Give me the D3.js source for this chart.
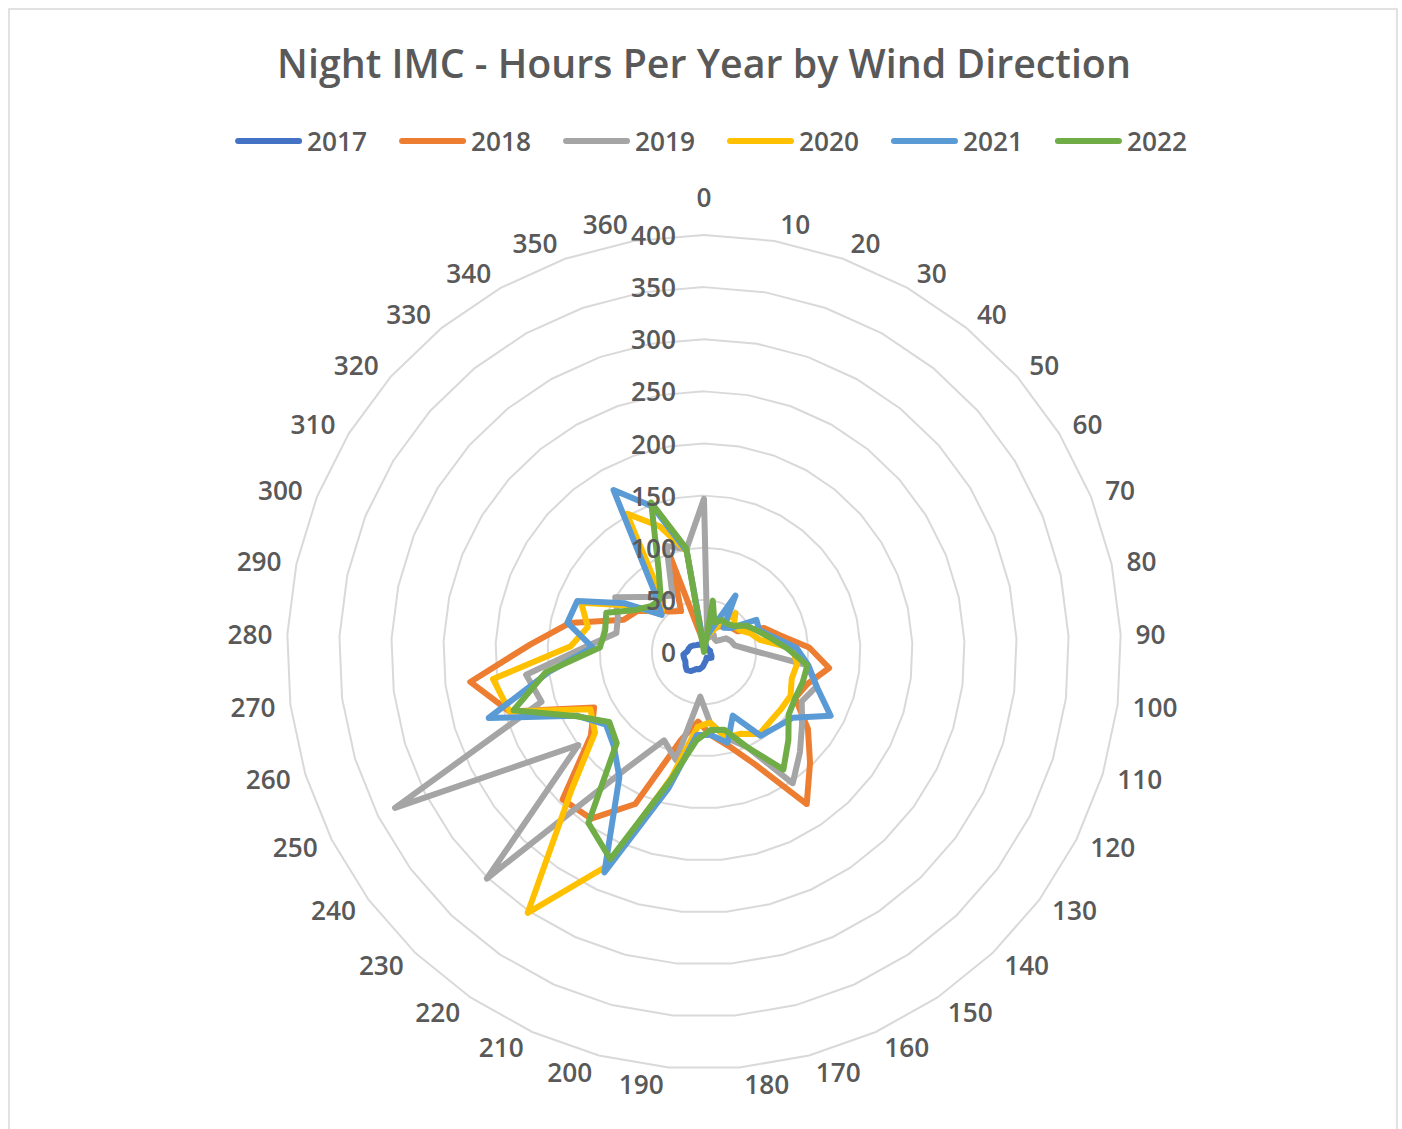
<!DOCTYPE html>
<html><head><meta charset="utf-8">
<script src="https://cdn.jsdelivr.net/npm/d3@7/dist/d3.min.js"></script>
<style>
html,body{margin:0;padding:0;background:#fff;}
svg{display:block;}
text{font-family:"Open Sans","Noto Sans",sans-serif;fill:#595959;font-weight:600;}
</style></head><body>
<svg id="chart" width="1402" height="1129"></svg>
<script>
const titleText = "Night IMC - Hours Per Year by Wind Direction";
const categories = ["0","10","20","30","40","50","60","70","80","90","100","110","120","130","140","150","160","170","180","190","200","210","220","230","240","250","260","270","280","290","300","310","320","330","340","350","360"];
const radialTicks = [0,50,100,150,200,250,300,350,400];
const seriesNames = ["2017","2018","2019","2020","2021","2022"];
const seriesColors = ["#4472C4","#ED7D31","#A5A5A5","#FFC000","#5B9BD5","#70AD47"];
const v2017 = [10,8,6,5,5,4,4,5,6,6,6,7,8,9,8,7,6,8,10,14,17,18,22,24,22,20,20,20,16,15,14,12,10,9,8,8,9];
const v2018 = [8,15,22,28,32,35,38,62,75,101,121,104,98,124,147,176,118,93,80,67,87,160,193,196,135,118,195,226,167,132,83,75,60,50,45,96,15];
const v2019 = [147,18,15,19,16,16,25,28,30,45,100,113,105,117,133,152,100,85,68,43,107,93,137,301,150,332,163,172,114,86,89,100,80,68,62,108,100];
const v2020 = [5,15,20,30,48,38,40,48,55,85,90,88,93,92,92,95,86,85,68,72,125,225,302,184,130,122,195,204,128,114,127,85,55,62,152,128,98];
const v2021 = [5,15,25,62,30,35,59,57,68,89,101,113,136,106,100,97,67,90,80,80,135,232,145,125,117,136,216,150,107,134,131,89,54,77,178,148,98];
const v2022 = [0,50,30,35,35,38,48,55,65,80,100,99,98,101,117,136,100,77,75,85,127,218,198,121,113,137,191,153,100,97,101,77,67,66,89,152,101];
const seriesValues = [v2017,v2018,v2019,v2020,v2021,v2022];

const svg = d3.select("#chart");
const cx = 704, cy = 652, R = 417;
const n = categories.length;
const angle = d3.scaleLinear().domain([0, n]).range([0, 2*Math.PI]);
const r = d3.scaleLinear().domain([0, 400]).range([0, R]);

function fitSize(str, target, weight){
  const t = svg.append("text").attr("font-size",100).style("font-weight",weight).text(str);
  const w = t.node().getComputedTextLength(); t.remove();
  return 100*target/w;
}
const labelSize = fitSize("400", 45, 600);
const titleSize = fitSize(titleText, 854, 600);

svg.append("rect").attr("x",9).attr("y",9).attr("width",1388).attr("height",1200)
  .attr("fill","none").attr("stroke","#D9D9D9").attr("stroke-width",1.5);

svg.append("text").attr("x",cx).attr("y",63).attr("text-anchor","middle")
  .attr("dominant-baseline","central").attr("font-size",titleSize).text(titleText);

const g = svg.append("g").attr("transform",`translate(${cx},${cy})`);

const ringLine = d3.lineRadial().angle((d,i)=>angle(i)).radius(d=>d).curve(d3.curveLinearClosed);
radialTicks.filter(t=>t>0).forEach(t=>{
  g.append("path").attr("d", ringLine(categories.map(()=>r(t))))
   .attr("fill","none").attr("stroke","#D9D9D9").attr("stroke-width",2);
});

const line = d3.lineRadial().angle((d,i)=>angle(i)).radius(d=>r(d)).curve(d3.curveLinearClosed);
seriesValues.forEach((vals,si)=>{
  g.append("path").attr("d", line(vals)).attr("fill","none")
   .attr("stroke", seriesColors[si]).attr("stroke-width",6)
   .attr("stroke-linejoin","round").attr("stroke-linecap","round");
});

radialTicks.forEach(t=>{
  g.append("text").attr("x",-28).attr("y",-r(t)).attr("text-anchor","end")
   .attr("dominant-baseline","central").attr("font-size",labelSize).text(t);
});

const A = 428, B = 434;
categories.forEach((c,i)=>{
  const th = angle(i), sx = Math.sin(th), sy = -Math.cos(th);
  const t = g.append("text").attr("font-size",labelSize).attr("text-anchor","middle")
    .attr("dominant-baseline","central").text(c);
  const w = t.node().getComputedTextLength();
  const sg = Math.abs(sx) < 0.02 ? 0 : Math.sign(sx);
  const x = A*sx + sg*(w/2 + 4);
  const y = B*sy + (i===0 ? -21 : 0);
  t.attr("x",x).attr("y",y);
});

const lg = svg.append("g");
const lineLen = 67, gap1 = 5, gap2 = 32;
const widths = seriesNames.map(s=>{
  const t = svg.append("text").attr("font-size",labelSize).text(s);
  const w = t.node().getComputedTextLength(); t.remove(); return w;
});
const total = d3.sum(widths) + seriesNames.length*(lineLen+gap1) + (seriesNames.length-1)*gap2;
let xPos = 711 - total/2;
const ly = 141;
seriesNames.forEach((s,i)=>{
  lg.append("line").attr("x1",xPos+3).attr("x2",xPos+lineLen-3).attr("y1",ly).attr("y2",ly)
    .attr("stroke",seriesColors[i]).attr("stroke-width",6).attr("stroke-linecap","round");
  lg.append("text").attr("x",xPos+lineLen+gap1).attr("y",ly).attr("dominant-baseline","central")
    .attr("font-size",labelSize).text(s);
  xPos += lineLen + gap1 + widths[i] + gap2;
});
</script>
</body></html>
